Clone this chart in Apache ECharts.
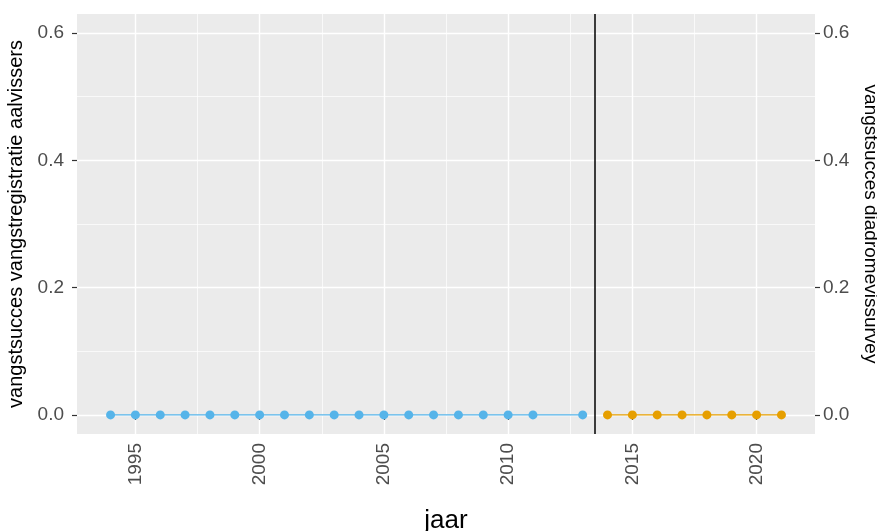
<!DOCTYPE html>
<html>
<head>
<meta charset="utf-8">
<script src="https://cdn.jsdelivr.net/npm/echarts@6/dist/echarts.min.js"></script>
<style>
html,body{margin:0;padding:0;background:#fff;}
#chart{width:877px;height:531px;}
</style>
</head>
<body>
<div id="chart"></div>
<script>
// Data
const yearsAal = [1994,1995,1996,1997,1998,1999,2000,2001,2002,2003,2004,2005,2006,2007,2008,2009,2010,2011,2013];
const valuesAal = [0,0,0,0,0,0,0,0,0,0,0,0,0,0,0,0,0,0,0];
const yearsDiadroom = [2014,2015,2016,2017,2018,2019,2020,2021];
const valuesDiadroom = [0,0,0,0,0,0,0,0];
const splitYear = 2013.5;
const xTicks = [1995,2000,2005,2010,2015,2020];
const xMinorTicks = [1997.5,2002.5,2007.5,2012.5,2017.5];
const yTicks = [0,0.2,0.4,0.6];
const yMinorTicks = [0.1,0.3,0.5];
const xRange = [1992.65, 2022.35];
const yRange = [-0.03, 0.63];

const FONT = 'Liberation Sans, Arial, sans-serif';
const chart = echarts.init(document.getElementById('chart'));

const tickLabel = {color:'#4D4D4D', fontSize:19, fontFamily:FONT};

const option = {
  animation:false,
  backgroundColor:'#ffffff',
  grid:{left:77, right:62, top:14, bottom:97, show:true, backgroundColor:'#EBEBEB', borderWidth:0, containLabel:false, outerBoundsMode:'none'},
  xAxis:[{
    type:'value', min:xRange[0], max:xRange[1],
    axisLine:{show:false},
    axisTick:{show:true, length:5, lineStyle:{color:'#333333', width:1.2}, customValues:xTicks},
    axisLabel:Object.assign({rotate:90, margin:9, customValues:xTicks, formatter:v=>String(v)}, tickLabel),
    splitLine:{show:true, lineStyle:{color:'#ffffff', width:1.4}},
    name:'jaar', nameLocation:'middle', nameGap:74,
    nameTextStyle:{color:'#000000', fontSize:26, fontFamily:FONT}
  },{
    type:'value', min:xRange[0], max:xRange[1], position:'bottom',
    axisLine:{show:false},
    axisTick:{show:false, customValues:xMinorTicks},
    axisLabel:{show:false, customValues:xMinorTicks},
    splitLine:{show:true, lineStyle:{color:'#ffffff', width:0.7}}
  }],
  yAxis:[{
    type:'value', min:yRange[0], max:yRange[1], position:'left',
    axisLine:{show:false},
    axisTick:{show:true, length:5, lineStyle:{color:'#333333', width:1.2}, customValues:yTicks},
    axisLabel:Object.assign({margin:13, customValues:yTicks, formatter:v=>v.toFixed(1)}, tickLabel),
    splitLine:{show:true, lineStyle:{color:'#ffffff', width:1.4}},
    name:'vangstsucces vangstregistratie aalvissers', nameLocation:'middle', nameGap:48, nameRotate:90,
    nameTextStyle:{color:'#000000', fontSize:20, fontFamily:FONT}
  },{
    type:'value', min:yRange[0], max:yRange[1], position:'right',
    axisLine:{show:false},
    axisTick:{show:true, length:5, lineStyle:{color:'#333333', width:1.2}, customValues:yTicks},
    axisLabel:Object.assign({margin:8, customValues:yTicks, formatter:v=>v.toFixed(1)}, tickLabel),
    splitLine:{show:false},
    name:'vangstsucces diadromevissurvey', nameLocation:'middle', nameGap:44, nameRotate:-90,
    nameTextStyle:{color:'#000000', fontSize:19, fontFamily:FONT}
  },{
    type:'value', min:yRange[0], max:yRange[1], position:'left', show:true,
    axisLine:{show:false}, axisTick:{show:false, customValues:yMinorTicks},
    axisLabel:{show:false, customValues:yMinorTicks},
    splitLine:{show:true, lineStyle:{color:'#ffffff', width:0.7}}
  }],
  series:[{
    type:'line', xAxisIndex:0, yAxisIndex:0,
    data:yearsAal.map((y,i)=>[y, valuesAal[i]]),
    symbol:'circle', symbolSize:9,
    lineStyle:{color:'#56B4E9', width:1.2},
    itemStyle:{color:'#56B4E9'},
    z:5,
    markLine:{
      silent:true, symbol:['none','none'], label:{show:false},
      lineStyle:{color:'#000000', width:1.5, type:'solid'},
      data:[{xAxis:splitYear}]
    }
  },{
    type:'line', xAxisIndex:0, yAxisIndex:0,
    data:yearsDiadroom.map((y,i)=>[y, valuesDiadroom[i]]),
    symbol:'circle', symbolSize:9,
    lineStyle:{color:'#E69F00', width:1.2},
    itemStyle:{color:'#E69F00'},
    z:5
  }]
};
chart.setOption(option);
</script>
</body>
</html>
